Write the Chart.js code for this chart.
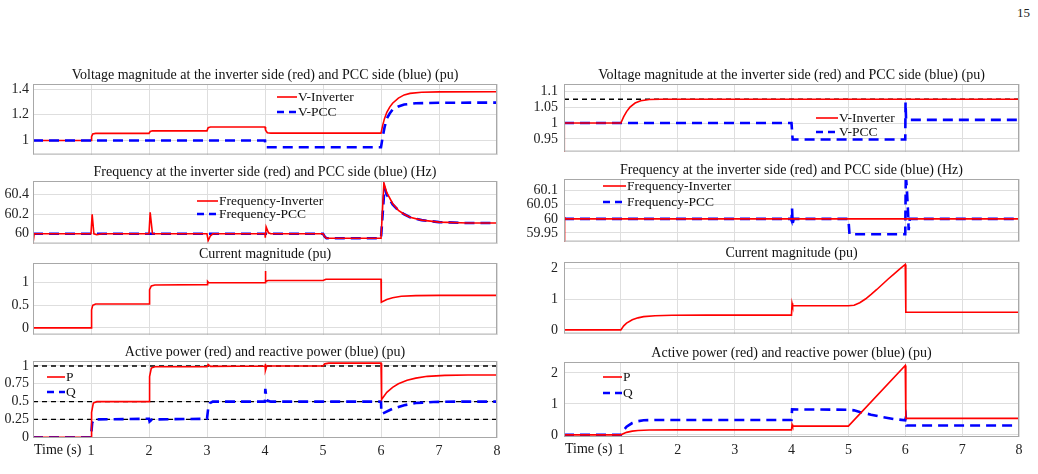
<!DOCTYPE html>
<html>
<head>
<meta charset="utf-8">
<script src="https://cdn.jsdelivr.net/npm/chart.js@4.4.1/dist/chart.umd.min.js"></script>
<style>
  body { margin: 0; background: #fff; width: 1038px; height: 474px; overflow: hidden; position: relative; font-family: "Liberation Serif", serif; }
  .panel { position: absolute; }
  .pageNum { position: absolute; left: 1017px; top: 5px; font-size: 13px; color: #222; }
</style>
</head>
<body>
<div class="pageNum">15</div>
<script>
// === Trục thời gian (s)
const timeTicks = [0, 1, 2, 3, 4, 5, 6, 7, 8];

// === Cột trái (a)
const vInvA = [[0,1],[1,1],[1.01,1.03],[1.03,1.05],[1.08,1.055],[2,1.055],[2.02,1.07],[2.06,1.075],[3,1.075],[3.02,1.1],[3.06,1.105],[4,1.105],[4.01,1.08],[4.04,1.06],[4.1,1.057],[6,1.057],[6.03,1.12],[6.06,1.17],[6.1,1.22],[6.15,1.26],[6.2,1.29],[6.3,1.33],[6.4,1.355],[6.5,1.367],[6.7,1.376],[7,1.379],[8,1.38]];
const vPccA = [[0,1],[4,1],[4.01,0.947],[6,0.947],[6.03,1.03],[6.06,1.1],[6.1,1.17],[6.15,1.21],[6.2,1.24],[6.3,1.265],[6.4,1.28],[6.6,1.29],[7,1.294],[8,1.295]];
const freqInvA = [[0,59.9],[0.02,60],[1,60],[1.02,60.2],[1.05,60],[1.1,59.99],[1.2,60],[2,60],[2.02,60.22],[2.06,60],[3,60],[3.02,59.93],[3.06,59.98],[3.1,60],[4,60],[4.005,59.96],[4.02,60.07],[4.06,60.01],[4.1,60],[5,60],[5.03,59.97],[5.06,59.955],[6,59.955],[6.05,60.52],[6.1,60.42],[6.2,60.31],[6.3,60.24],[6.4,60.2],[6.5,60.17],[6.7,60.14],[7,60.12],[7.5,60.11],[8,60.11]];
const freqPccA = [[0,60],[5,60],[5.03,59.97],[5.06,59.955],[6,59.955],[6.06,60.47],[6.1,60.4],[6.2,60.3],[6.3,60.24],[6.4,60.2],[6.5,60.17],[6.7,60.14],[7,60.12],[7.5,60.11],[8,60.11]];
const currA = [[0,0],[1,0],[1.01,0.4],[1.03,0.5],[1.08,0.53],[2,0.53],[2.01,0.85],[2.04,0.93],[2.1,0.95],[3,0.96],[3.01,1.03],[3.03,1],[4,1],[4.005,1.26],[4.015,1.03],[4.05,1.05],[5,1.05],[5.05,1.08],[6,1.08],[6.005,0.57],[6.1,0.63],[6.2,0.67],[6.35,0.7],[6.6,0.715],[7,0.72],[8,0.72]];
const pA = [[0,0],[1,0],[1.01,0.35],[1.04,0.48],[1.1,0.5],[2,0.5],[2.01,0.85],[2.04,0.97],[2.1,0.99],[3,0.99],[3.02,1.02],[3.06,0.995],[4,1],[4.005,1.03],[4.01,0.94],[4.03,1],[5,1],[5.03,1.03],[5.1,1.04],[6,1.04],[6.01,0.53],[6.1,0.63],[6.2,0.7],[6.3,0.75],[6.45,0.8],[6.6,0.83],[6.8,0.855],[7.1,0.868],[7.5,0.873],[8,0.873]];
const qA = [[0,0],[1,0],[1.02,0.2],[1.05,0.25],[2,0.26],[2.01,0.22],[2.05,0.25],[3,0.26],[3.02,0.4],[3.05,0.48],[3.1,0.5],[4,0.5],[4.005,0.68],[4.03,0.52],[4.1,0.5],[6,0.5],[6.005,0.38],[6.02,0.33],[6.2,0.4],[6.4,0.45],[6.6,0.48],[6.9,0.495],[7.3,0.5],[8,0.5]];
const refA = [1, 0.5, 0.25];
const yTicksVA = [1, 1.2, 1.4];
const yTicksFA = [60, 60.2, 60.4];
const yTicksIA = [0, 0.5, 1];
const yTicksPA = [0, 0.25, 0.5, 0.75, 1];

// === Cột phải (b)
const vInvB = [[0,0.91],[0.005,1],[1,1],[1.05,1.02],[1.1,1.036],[1.16,1.05],[1.25,1.063],[1.35,1.07],[1.5,1.074],[1.7,1.075],[8,1.075]];
const vPccB = [[0,1],[4,1],[4.02,0.948],[6,0.948],[6.005,1.065],[6.015,1.01],[8,1.01]];
const refB = [1.075];
const freqInvB = [[0,59.915],[0.01,60.005],[0.03,60],[8,60]];
const freqPccB = [[0,60],[3.99,60],[4,59.995],[4.01,60.037],[4.02,59.983],[4.04,60],[5,60],[5.02,59.945],[6,59.945],[6.01,60.16],[6.03,60.1],[6.05,60.02],[6.06,59.96],[6.08,60],[8,60]];
const currB = [[0,0],[1,0],[1.05,0.13],[1.1,0.22],[1.2,0.33],[1.3,0.39],[1.4,0.43],[1.6,0.46],[1.9,0.475],[2.5,0.48],[4,0.48],[4.01,0.86],[4.02,0.78],[5,0.78],[5.1,0.8],[5.2,0.88],[5.3,1],[5.4,1.15],[5.5,1.31],[5.6,1.48],[5.7,1.65],[5.8,1.81],[5.9,1.97],[6,2.12],[6.01,0.57],[8,0.57]];
const pB = [[0,0],[1,0],[1.05,0.04],[1.1,0.08],[1.2,0.12],[1.3,0.14],[1.5,0.155],[2,0.16],[4,0.16],[4.01,0.33],[4.02,0.28],[5,0.28],[6,2.24],[6.01,0.53],[8,0.53]];
const qB = [[0,0],[1,0],[1.05,0.15],[1.1,0.26],[1.2,0.38],[1.3,0.44],[1.4,0.47],[1.6,0.48],[4,0.48],[4.01,0.82],[5,0.81],[5.1,0.79],[5.2,0.74],[5.4,0.65],[5.6,0.57],[5.8,0.51],[6,0.47],[6.01,0.55],[6.02,0.3],[8,0.3]];
const yTicksVB = [0.95, 1, 1.05, 1.1];
const yTicksFB = [59.95, 60, 60.05, 60.1];
const yTicksIB = [0, 1, 2];
const yTicksPB = [0, 1, 2];

const RED = "#ff0000";
const BLUE = "#0000ff";
const FONT = "Liberation Serif";

// === Kiểu đường
function red(data, order) {
  return { data: data.map(([x, y]) => ({ x, y })), borderColor: RED, borderWidth: 1.6, order };
}
function blue(data, order) {
  return { data: data.map(([x, y]) => ({ x, y })), borderColor: BLUE, borderWidth: 2.6, borderDash: [10, 6], order };
}
function refLine(v) {
  return { data: [{ x: timeTicks[0], y: v }, { x: timeTicks[timeTicks.length - 1], y: v }], borderColor: "#000", borderWidth: 1.3, borderDash: [5, 4], order: 5 };
}

// === Vẽ khung, tiêu đề, chú thích
function decorPlugin(cfg) {
  return {
    id: "decor",
    afterDraw(chart) {
      const a = chart.chartArea;
      const ctx = chart.ctx;
      ctx.save();
      ctx.strokeStyle = "#a8a8a8";
      ctx.lineWidth = 1;
      ctx.setLineDash([]);
      ctx.strokeRect(a.left + 0.5, a.top + 0.5, a.right - a.left - 1, a.bottom - a.top - 1);

      ctx.fillStyle = "#111";
      ctx.font = "14px '" + FONT + "'";
      ctx.textAlign = "center";
      ctx.textBaseline = "middle";
      ctx.fillText(cfg.title, (a.left + a.right) / 2, a.top - 8.5);

      ctx.font = "13.5px '" + FONT + "'";
      ctx.textAlign = "left";
      (cfg.legend || []).forEach((it) => {
        const y = a.top + it.y;
        ctx.beginPath();
        ctx.strokeStyle = it.color;
        ctx.lineWidth = it.dash ? 2.6 : 1.6;
        ctx.setLineDash(it.dash ? [7, 5] : []);
        ctx.moveTo(a.left + it.x0, y);
        ctx.lineTo(a.left + it.x1, y);
        ctx.stroke();
        ctx.setLineDash([]);
        ctx.fillStyle = "#111";
        ctx.fillText(it.label, a.left + it.x1 + 1, y);
      });

      if (cfg.bottomAxis) {
        ctx.font = "14px '" + FONT + "'";
        ctx.fillText("Time (s)", a.left + 1, a.bottom + 12);
      }
      ctx.restore();
    },
  };
}

function makePanel(cfg) {
  const padTop = 18, padRight = 12;
  const padBottom = cfg.bottomAxis ? 6 : 10;
  const axisH = cfg.bottomAxis ? 20 : 0;
  const div = document.createElement("div");
  div.className = "panel";
  div.style.left = cfg.left - cfg.axisW + "px";
  div.style.top = cfg.top - padTop + "px";
  div.style.width = cfg.axisW + (cfg.right - cfg.left) + padRight + "px";
  div.style.height = padTop + (cfg.bottom - cfg.top) + axisH + padBottom + "px";
  const canvas = document.createElement("canvas");
  div.appendChild(canvas);
  document.body.appendChild(div);

  new Chart(canvas, {
    type: "line",
    data: { datasets: cfg.datasets },
    options: {
      responsive: true,
      maintainAspectRatio: false,
      animation: false,
      events: [],
      layout: { padding: { top: padTop, right: padRight, bottom: padBottom, left: 0 } },
      elements: { point: { radius: 0 }, line: { tension: 0, fill: false } },
      plugins: { legend: { display: false }, tooltip: { enabled: false } },
      scales: {
        x: {
          type: "linear",
          min: timeTicks[0],
          max: timeTicks[timeTicks.length - 1],
          afterBuildTicks: (s) => { s.ticks = timeTicks.map((v) => ({ value: v })); },
          afterFit: (s) => { s.height = axisH; },
          grid: { color: "#dedede", drawTicks: false },
          border: { display: false },
          ticks: {
            display: !!cfg.bottomAxis,
            autoSkip: false,
            padding: 5,
            color: "#222",
            font: { family: FONT, size: 14 },
            maxRotation: 0,
            callback: (v) => (v === 0 ? "" : String(v)),
          },
        },
        y: {
          min: cfg.yMin,
          max: cfg.yMax,
          afterBuildTicks: (s) => { s.ticks = cfg.yTicks.map((v) => ({ value: v })); },
          afterFit: (s) => { s.width = cfg.axisW; },
          grid: { color: "#dedede", drawTicks: false },
          border: { display: false },
          ticks: {
            autoSkip: false,
            padding: cfg.tickPad,
            color: "#222",
            font: { family: FONT, size: 14 },
            callback: (v) => String(v),
          },
        },
      },
    },
    plugins: [decorPlugin(cfg)],
  });
}

const colA = { left: 33, right: 497, axisW: 33, tickPad: 4 };
const colB = { left: 564, right: 1019, axisW: 44, tickPad: 6 };

makePanel({ ...colA, top: 84, bottom: 157, yMin: 0.89, yMax: 1.44, yTicks: yTicksVA,
  title: "Voltage magnitude at the inverter side (red) and PCC side (blue) (pu)",
  datasets: [blue(vPccA, 0), red(vInvA, 1)],
  legend: [
    { label: "V-Inverter", color: RED, x0: 244, x1: 264, y: 13 },
    { label: "V-PCC", color: BLUE, dash: true, x0: 244, x1: 264, y: 28 },
  ] });
makePanel({ ...colA, top: 181, bottom: 246, yMin: 59.9, yMax: 60.54, yTicks: yTicksFA,
  title: "Frequency at the inverter side (red) and PCC side (blue) (Hz)",
  datasets: [red(freqInvA, 0), blue(freqPccA, 1)],
  legend: [
    { label: "Frequency-Inverter", color: RED, x0: 164, x1: 185, y: 20 },
    { label: "Frequency-PCC", color: BLUE, dash: true, x0: 164, x1: 185, y: 33 },
  ] });
makePanel({ ...colA, top: 263, bottom: 337, yMin: -0.15, yMax: 1.44, yTicks: yTicksIA,
  title: "Current magnitude (pu)",
  datasets: [red(currA, 0)] });
makePanel({ ...colA, top: 361, bottom: 438, yMin: -0.01, yMax: 1.07, yTicks: yTicksPA, bottomAxis: true,
  title: "Active power (red) and reactive power (blue) (pu)",
  datasets: [red(pA, 0), blue(qA, 1), ...refA.map(refLine)],
  legend: [
    { label: "P", color: RED, x0: 14, x1: 32, y: 16 },
    { label: "Q", color: BLUE, dash: true, x0: 14, x1: 32, y: 31 },
  ] });

makePanel({ ...colB, top: 84, bottom: 156, yMin: 0.91, yMax: 1.123, yTicks: yTicksVB,
  title: "Voltage magnitude at the inverter side (red) and PCC side (blue) (pu)",
  datasets: [red(vInvB, 0), blue(vPccB, 1), ...refB.map(refLine)],
  legend: [
    { label: "V-Inverter", color: RED, x0: 252, x1: 274, y: 34 },
    { label: "V-PCC", color: BLUE, dash: true, x0: 252, x1: 274, y: 48 },
  ] });
makePanel({ ...colB, top: 179, bottom: 246, yMin: 59.919, yMax: 60.142, yTicks: yTicksFB,
  title: "Frequency at the inverter side (red) and PCC side (blue) (Hz)",
  datasets: [red(freqInvB, 0), blue(freqPccB, 1)],
  legend: [
    { label: "Frequency-Inverter", color: RED, x0: 39, x1: 62, y: 7 },
    { label: "Frequency-PCC", color: BLUE, dash: true, x0: 39, x1: 62, y: 23 },
  ] });
makePanel({ ...colB, top: 262, bottom: 338, yMin: -0.12, yMax: 2.2, yTicks: yTicksIB,
  title: "Current magnitude (pu)",
  datasets: [red(currB, 0)] });
makePanel({ ...colB, top: 362, bottom: 437, yMin: -0.07, yMax: 2.35, yTicks: yTicksPB, bottomAxis: true,
  title: "Active power (red) and reactive power (blue) (pu)",
  datasets: [red(pB, 0), blue(qB, 1)],
  legend: [
    { label: "P", color: RED, x0: 39, x1: 58, y: 15 },
    { label: "Q", color: BLUE, dash: true, x0: 39, x1: 58, y: 31 },
  ] });
</script>
</body>
</html>
